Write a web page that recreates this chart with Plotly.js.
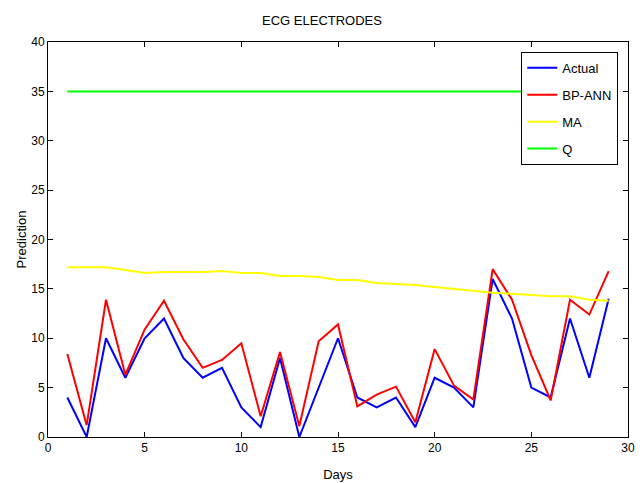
<!DOCTYPE html>
<html>
<head>
<meta charset="utf-8">
<script src="https://cdn.plot.ly/plotly-3.0.1.min.js"></script>
<style>html,body{margin:0;padding:0;background:#fff;}#chart{width:644px;height:483px;}</style>
</head>
<body>
<div id="chart"></div>
<script>
const days = [1,2,3,4,5,6,7,8,9,10,11,12,13,14,15,16,17,18,19,20,21,22,23,24,25,26,27,28,29];
const actual = [4,0,10,6,10,12,8,6,7,3,1,8,0,5,10,4,3,4,1,6,5,3,16,12,5,4,12,6,14];
const bpann = [8.4,1.2,13.9,6.3,10.9,13.8,9.9,7,7.8,9.5,2.1,8.6,1.1,9.7,11.4,3.1,4.3,5.1,1.5,8.9,5.2,3.8,17,13.9,8.3,3.7,13.9,12.4,16.8];
const ma = [17.2,17.2,17.2,16.9,16.6,16.7,16.7,16.7,16.8,16.6,16.6,16.3,16.3,16.2,15.9,15.9,15.6,15.5,15.4,15.2,15.0,14.8,14.6,14.5,14.4,14.25,14.25,13.9,13.8];
const q = [35,35,35,35,35,35,35,35,35,35,35,35,35,35,35,35,35,35,35,35,35,35,35,35,35,35,35,35,35];
const xTicks = [0,5,10,15,20,25,30];
const yTicks = [0,5,10,15,20,25,30,35,40];

const font = "'Liberation Sans Narrow', 'Liberation Sans', Arial, sans-serif";
function tr(name, y, color, g) {
  return {x: days, y: y, name: name, type: 'scatter', mode: 'lines',
          line: {color: color, width: 2}, legendgroup: g};
}
const data = [
  tr('Actual', actual, '#0000ff', 'a'),
  tr('BP-ANN', bpann, '#ff0000', 'b'),
  tr('MA', ma, '#ffff00', 'c'),
  tr('Q', q, '#00ff00', 'd')
];
const axisCommon = {
  showline: true, linecolor: '#000', linewidth: 1, mirror: 'ticks',
  ticks: 'inside', ticklen: 5, tickcolor: '#000', showgrid: false, zeroline: false,
  tickfont: {family: font, size: 12, color: '#000'}
};
const layout = {
  width: 644, height: 483,
  margin: {l: 48, r: 16, t: 42, b: 46},
  paper_bgcolor: '#fff', plot_bgcolor: '#fff',
  title: {text: 'ECG ELECTRODES', font: {family: font, size: 13, color: '#000'}, x: 0.5, xanchor: 'center', y: 0.958, yanchor: 'middle'},
  xaxis: Object.assign({}, axisCommon, {range: [0, 30], tickvals: xTicks, ticktext: xTicks.map(String),
    title: {text: 'Days', font: {family: font, size: 13, color: '#000'}, standoff: 15}}),
  yaxis: Object.assign({}, axisCommon, {range: [0, 40], tickvals: yTicks, ticktext: yTicks.map(String),
    title: {text: 'Prediction', font: {family: font, size: 13, color: '#000'}, standoff: 1}}),
  showlegend: true,
  legend: {x: 0.816, y: 0.975, xanchor: 'left', yanchor: 'top', bgcolor: '#fff', bordercolor: '#000', borderwidth: 1,
    font: {family: font, size: 13, color: '#000'}, traceorder: 'grouped', tracegroupgap: 7, itemwidth: 30}
};
Plotly.newPlot('chart', data, layout, {displayModeBar: false, staticPlot: true});
</script>
</body>
</html>
